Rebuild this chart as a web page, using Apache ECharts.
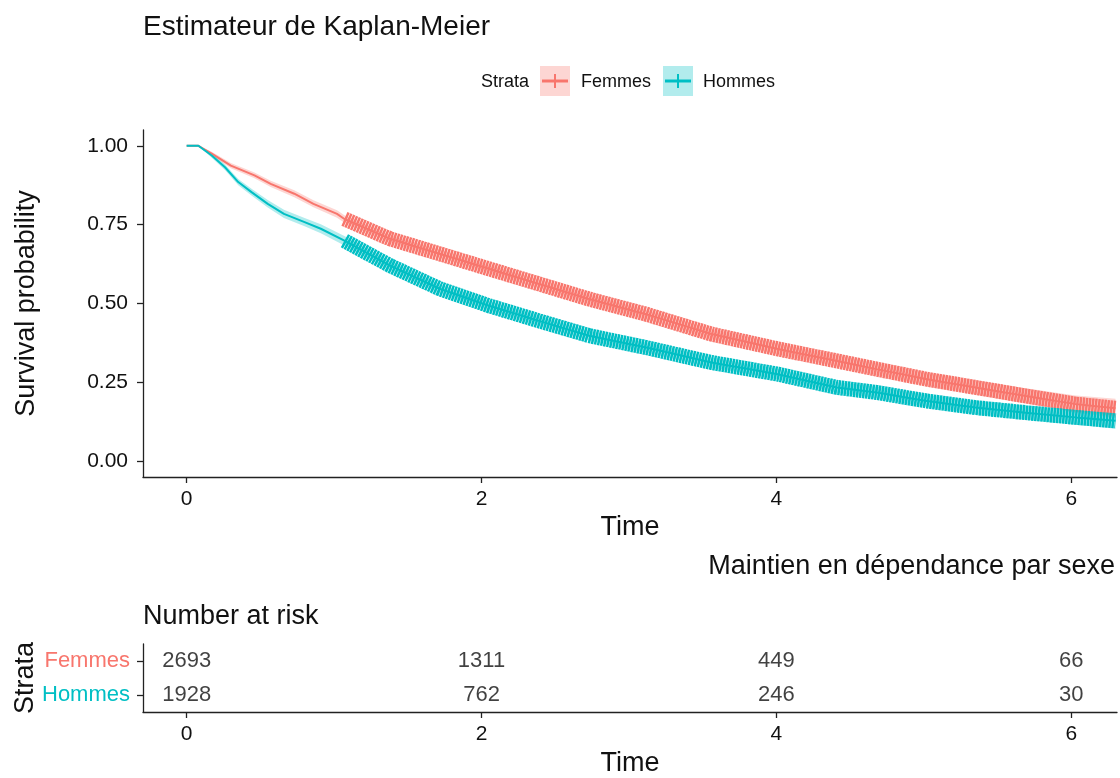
<!DOCTYPE html>
<html>
<head>
<meta charset="utf-8">
<script src="https://cdn.jsdelivr.net/npm/echarts@6/dist/echarts.min.js"></script>
<style>
  html, body { margin: 0; padding: 0; background: #fff; }
  #chart { width: 1120px; height: 778px; }
</style>
</head>
<body>
<div id="chart"></div>
<script>
// Kaplan-Meier curves
const femmesTime = [0, 0.08, 0.17, 0.30, 0.46, 0.57, 0.73, 0.86, 1.02, 1.07, 1.38, 1.72, 2.05, 2.39, 2.73, 3.11, 3.56, 4.01, 4.41, 4.68, 5.02, 5.35, 5.69, 6.03, 6.30]
const femmesSurv = [1, 1, 0.975, 0.937, 0.906, 0.879, 0.848, 0.816, 0.784, 0.768, 0.705, 0.657, 0.610, 0.562, 0.514, 0.467, 0.403, 0.356, 0.318, 0.292, 0.260, 0.234, 0.207, 0.181, 0.168]
const femmesCiHalf = [0, 0, 0.006, 0.008, 0.009, 0.010, 0.011, 0.011, 0.012, 0.012, 0.013, 0.013, 0.014, 0.014, 0.015, 0.015, 0.016, 0.017, 0.018, 0.019, 0.020, 0.022, 0.024, 0.027, 0.030]

const hommesTime = [0, 0.08, 0.17, 0.26, 0.35, 0.44, 0.55, 0.66, 0.80, 0.91, 1.07, 1.38, 1.72, 2.05, 2.39, 2.73, 3.11, 3.56, 4.01, 4.41, 4.68, 5.02, 5.35, 5.69, 6.03, 6.30]
const hommesSurv = [1, 1, 0.969, 0.932, 0.885, 0.853, 0.816, 0.784, 0.758, 0.737, 0.699, 0.620, 0.546, 0.493, 0.445, 0.398, 0.361, 0.313, 0.276, 0.234, 0.218, 0.191, 0.170, 0.154, 0.139, 0.128]
const hommesCiHalf = [0, 0, 0.007, 0.009, 0.010, 0.011, 0.012, 0.013, 0.013, 0.014, 0.015, 0.015, 0.015, 0.015, 0.015, 0.015, 0.016, 0.016, 0.016, 0.017, 0.018, 0.019, 0.020, 0.022, 0.023, 0.025]

// censoring marks become dense from here on
const censorDenseFrom = 1.07

// number at risk table
const strataNames = ['Femmes', 'Hommes']
const riskTimes = [0, 2, 4, 6]
const femmesRisk = [2693, 1311, 449, 66]
const hommesRisk = [1928, 762, 246, 30]

const xTicks = [0, 2, 4, 6]
const yTicks = [0, 0.25, 0.5, 0.75, 1]

const RED = '#F8766D'
const TEAL = '#00BFC4'
const FONT = 'Liberation Sans, Arial, sans-serif'
const TXT = '#111'

const chart = echarts.init(document.getElementById('chart'))

function pairs(time, vals) {
  return time.map((t, i) => [t, vals[i]])
}

function bandSeries(time, surv, ci, fill) {
  return {
    type: 'custom',
    xAxisIndex: 0,
    yAxisIndex: 0,
    silent: true,
    z: 1,
    data: [[0, 1]],
    renderItem: function(params, api) {
      const up = time.map((t, i) => api.coord([t, surv[i] + ci[i]]))
      const lo = time.map((t, i) => api.coord([t, surv[i] - ci[i]])).reverse()
      return {
        type: 'polygon',
        shape: { points: up.concat(lo) },
        style: { fill: fill }
      }
    }
  }
}

function curveSeries(name, time, surv, color) {
  return {
    name: name,
    type: 'line',
    xAxisIndex: 0,
    yAxisIndex: 0,
    data: pairs(time, surv),
    showSymbol: false,
    z: 3,
    lineStyle: { color: color, width: 2 }
  }
}

// the dense "+" censor marks read as a thick striped band
function censorSeries(time, surv, color) {
  const pts = pairs(time, surv).filter(p => p[0] >= censorDenseFrom)
  return {
    type: 'line',
    xAxisIndex: 0,
    yAxisIndex: 0,
    data: pts,
    showSymbol: false,
    silent: true,
    z: 4,
    lineStyle: { color: color, width: 15, type: [2.5, 0.6], cap: 'butt' }
  }
}

function riskSeries(name, counts) {
  return {
    type: 'scatter',
    xAxisIndex: 1,
    yAxisIndex: 1,
    symbolSize: 0,
    data: riskTimes.map((t, i) => [t, name, counts[i]]),
    label: {
      show: true,
      position: 'inside',
      formatter: p => String(p.value[2]),
      color: TXT,
      fontSize: 22,
      fontFamily: FONT
    }
  }
}

const axisLineStyle = { color: '#222', width: 1.3 }

function timeAxis(gridIndex, gap) {
  return {
    gridIndex: gridIndex, type: 'value', min: -0.296, max: 6.31,
    name: 'Time', nameLocation: 'middle', nameGap: gap,
    nameTextStyle: { fontSize: 27, color: TXT, fontFamily: FONT },
    axisLine: { show: true, onZero: false, lineStyle: axisLineStyle },
    axisTick: { show: true, length: 6, lineStyle: axisLineStyle, customValues: xTicks },
    axisLabel: { fontSize: 21, color: TXT, margin: 12, customValues: xTicks, fontFamily: FONT },
    splitLine: { show: false }
  }
}

chart.setOption({
  animation: false,
  textStyle: { fontFamily: FONT },
  title: [
    { text: 'Estimateur de Kaplan-Meier', left: 143, top: 13, padding: 0,
      textStyle: { fontSize: 28, fontWeight: 'normal', color: TXT, fontFamily: FONT } },
    { text: 'Maintien en dépendance par sexe', right: 5, top: 553, padding: 0,
      textStyle: { fontSize: 27, fontWeight: 'normal', color: TXT, fontFamily: FONT } },
    { text: 'Number at risk', left: 143, top: 603, padding: 0,
      textStyle: { fontSize: 27, fontWeight: 'normal', color: TXT, fontFamily: FONT } }
  ],
  graphic: [
    { type: 'text', left: 481, top: 73, style: { text: 'Strata', fontSize: 18, fontFamily: FONT, fill: TXT } },
    { type: 'rect', shape: { x: 540, y: 66, width: 30, height: 30 }, style: { fill: 'rgba(248,118,109,0.3)' } },
    { type: 'line', shape: { x1: 542, y1: 81, x2: 568, y2: 81 }, style: { stroke: RED, lineWidth: 3 } },
    { type: 'line', shape: { x1: 555, y1: 74, x2: 555, y2: 88 }, style: { stroke: RED, lineWidth: 2 } },
    { type: 'text', left: 581, top: 73, style: { text: 'Femmes', fontSize: 18, fontFamily: FONT, fill: TXT } },
    { type: 'rect', shape: { x: 663, y: 66, width: 30, height: 30 }, style: { fill: 'rgba(0,191,196,0.3)' } },
    { type: 'line', shape: { x1: 665, y1: 81, x2: 691, y2: 81 }, style: { stroke: TEAL, lineWidth: 3 } },
    { type: 'line', shape: { x1: 678, y1: 74, x2: 678, y2: 88 }, style: { stroke: TEAL, lineWidth: 2 } },
    { type: 'text', left: 703, top: 73, style: { text: 'Hommes', fontSize: 18, fontFamily: FONT, fill: TXT } }
  ],
  grid: [
    { left: 143, right: 3, top: 130, height: 347, outerBoundsMode: 'none' },
    { left: 143, right: 3, top: 644, height: 68, outerBoundsMode: 'none' }
  ],
  xAxis: [timeAxis(0, 37), timeAxis(1, 38)],
  yAxis: [
    {
      gridIndex: 0, type: 'value', min: -0.05, max: 1.05,
      name: 'Survival probability', nameLocation: 'middle', nameRotate: 90, nameGap: 103,
      nameMoveOverlap: false,
      nameTextStyle: { fontSize: 27, color: TXT, fontFamily: FONT },
      axisLine: { show: true, onZero: false, lineStyle: axisLineStyle },
      axisTick: { show: true, length: 6, lineStyle: axisLineStyle, customValues: yTicks },
      axisLabel: { fontSize: 21, color: TXT, margin: 15, customValues: yTicks,
        formatter: v => v.toFixed(2), fontFamily: FONT },
      splitLine: { show: false }
    },
    {
      gridIndex: 1, type: 'category', data: strataNames.slice().reverse(),
      name: 'Strata', nameLocation: 'middle', nameRotate: 90, nameGap: 104,
      nameMoveOverlap: false,
      nameTextStyle: { fontSize: 27, color: TXT, fontFamily: FONT },
      axisLine: { show: true, onZero: false, lineStyle: axisLineStyle },
      axisTick: { show: true, length: 6, alignWithLabel: true, lineStyle: axisLineStyle },
      axisLabel: { fontSize: 22, margin: 13, fontFamily: FONT,
        color: v => (v === 'Femmes' ? RED : TEAL) },
      splitLine: { show: false }
    }
  ],
  series: [
    bandSeries(femmesTime, femmesSurv, femmesCiHalf, 'rgba(248,118,109,0.3)'),
    bandSeries(hommesTime, hommesSurv, hommesCiHalf, 'rgba(0,191,196,0.3)'),
    curveSeries('Femmes', femmesTime, femmesSurv, RED),
    curveSeries('Hommes', hommesTime, hommesSurv, TEAL),
    censorSeries(femmesTime, femmesSurv, RED),
    censorSeries(hommesTime, hommesSurv, TEAL),
    riskSeries('Femmes', femmesRisk),
    riskSeries('Hommes', hommesRisk)
  ]
})
</script>
</body>
</html>
